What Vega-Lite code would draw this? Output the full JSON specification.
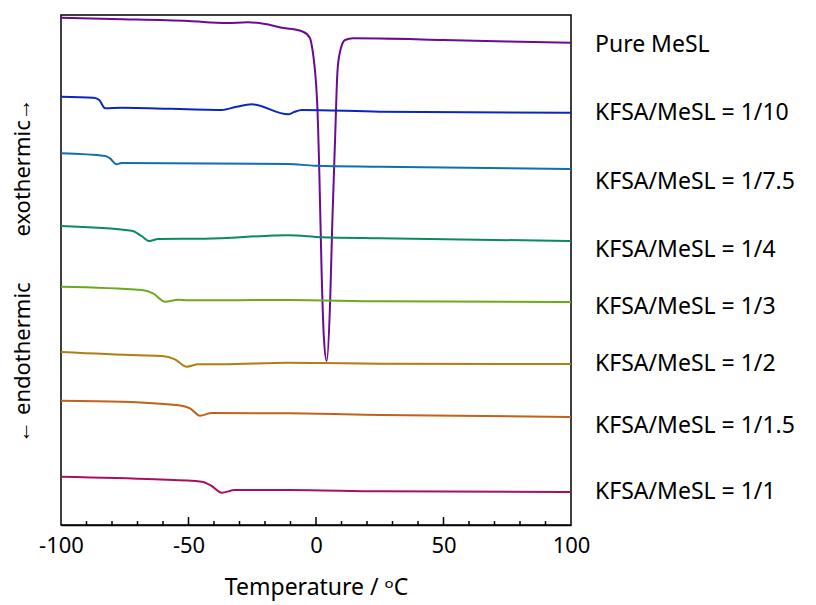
{
  "$schema": "https://vega.github.io/schema/vega-lite/v6.json",
  "width": 510,
  "height": 510,
  "autosize": {"type": "none"},
  "padding": {"left": 61, "top": 15, "right": 245, "bottom": 80},
  "config": {
    "font": "Noto Sans",
    "view": {"stroke": "black", "strokeWidth": 1.5},
    "axis": {"grid": false}
  },
  "datasets": {
    "curves": [
      {"series": "Pure MeSL", "T": -100, "y": 507.3},
      {"series": "Pure MeSL", "T": -80, "y": 506},
      {"series": "Pure MeSL", "T": -50, "y": 504},
      {"series": "Pure MeSL", "T": -35, "y": 502},
      {"series": "Pure MeSL", "T": -26.7, "y": 502.7},
      {"series": "Pure MeSL", "T": -20, "y": 501},
      {"series": "Pure MeSL", "T": -13.3, "y": 497.3},
      {"series": "Pure MeSL", "T": -5.1, "y": 493.3},
      {"series": "Pure MeSL", "T": -2.4, "y": 487},
      {"series": "Pure MeSL", "T": -1.7, "y": 480},
      {"series": "Pure MeSL", "T": 0.5, "y": 420},
      {"series": "Pure MeSL", "T": 1.3, "y": 353},
      {"series": "Pure MeSL", "T": 2.2, "y": 253},
      {"series": "Pure MeSL", "T": 3.1, "y": 187},
      {"series": "Pure MeSL", "T": 4.2, "y": 164},
      {"series": "Pure MeSL", "T": 5.5, "y": 220},
      {"series": "Pure MeSL", "T": 6.4, "y": 303},
      {"series": "Pure MeSL", "T": 7.5, "y": 387},
      {"series": "Pure MeSL", "T": 8.4, "y": 453},
      {"series": "Pure MeSL", "T": 9.4, "y": 473},
      {"series": "Pure MeSL", "T": 11.4, "y": 485},
      {"series": "Pure MeSL", "T": 14.5, "y": 486.7},
      {"series": "Pure MeSL", "T": 25, "y": 486.5},
      {"series": "Pure MeSL", "T": 50, "y": 485},
      {"series": "Pure MeSL", "T": 75, "y": 483.5},
      {"series": "Pure MeSL", "T": 100, "y": 482.3},

      {"series": "KFSA/MeSL = 1/10", "T": -100, "y": 428.3},
      {"series": "KFSA/MeSL = 1/10", "T": -87.3, "y": 427.3},
      {"series": "KFSA/MeSL = 1/10", "T": -85, "y": 425},
      {"series": "KFSA/MeSL = 1/10", "T": -82.7, "y": 416.7},
      {"series": "KFSA/MeSL = 1/10", "T": -76.2, "y": 417.3},
      {"series": "KFSA/MeSL = 1/10", "T": -37, "y": 415},
      {"series": "KFSA/MeSL = 1/10", "T": -31.1, "y": 418.3},
      {"series": "KFSA/MeSL = 1/10", "T": -25.2, "y": 420.7},
      {"series": "KFSA/MeSL = 1/10", "T": -10.9, "y": 410.7},
      {"series": "KFSA/MeSL = 1/10", "T": -8.6, "y": 413},
      {"series": "KFSA/MeSL = 1/10", "T": -5.6, "y": 415},
      {"series": "KFSA/MeSL = 1/10", "T": 25.1, "y": 413.3},
      {"series": "KFSA/MeSL = 1/10", "T": 100, "y": 412.3},

      {"series": "KFSA/MeSL = 1/7.5", "T": -100, "y": 371.7},
      {"series": "KFSA/MeSL = 1/7.5", "T": -82.7, "y": 369},
      {"series": "KFSA/MeSL = 1/7.5", "T": -80.8, "y": 366.7},
      {"series": "KFSA/MeSL = 1/7.5", "T": -78.2, "y": 360.7},
      {"series": "KFSA/MeSL = 1/7.5", "T": -76.2, "y": 362},
      {"series": "KFSA/MeSL = 1/7.5", "T": -10.9, "y": 361},
      {"series": "KFSA/MeSL = 1/7.5", "T": -0.4, "y": 359.3},
      {"series": "KFSA/MeSL = 1/7.5", "T": 25.1, "y": 358.3},
      {"series": "KFSA/MeSL = 1/7.5", "T": 100, "y": 356},

      {"series": "KFSA/MeSL = 1/4", "T": -100, "y": 299},
      {"series": "KFSA/MeSL = 1/4", "T": -72.3, "y": 294.3},
      {"series": "KFSA/MeSL = 1/4", "T": -68.4, "y": 289},
      {"series": "KFSA/MeSL = 1/4", "T": -65.4, "y": 284},
      {"series": "KFSA/MeSL = 1/4", "T": -61.9, "y": 286},
      {"series": "KFSA/MeSL = 1/4", "T": -43.5, "y": 286.3},
      {"series": "KFSA/MeSL = 1/4", "T": -10.9, "y": 289.7},
      {"series": "KFSA/MeSL = 1/4", "T": 2.2, "y": 287.7},
      {"series": "KFSA/MeSL = 1/4", "T": 25.1, "y": 286.7},
      {"series": "KFSA/MeSL = 1/4", "T": 100, "y": 284},

      {"series": "KFSA/MeSL = 1/3", "T": -100, "y": 238.3},
      {"series": "KFSA/MeSL = 1/3", "T": -68.4, "y": 235},
      {"series": "KFSA/MeSL = 1/3", "T": -63.9, "y": 231.7},
      {"series": "KFSA/MeSL = 1/3", "T": -59.2, "y": 223.3},
      {"series": "KFSA/MeSL = 1/3", "T": -54, "y": 225.3},
      {"series": "KFSA/MeSL = 1/3", "T": -50.1, "y": 224.7},
      {"series": "KFSA/MeSL = 1/3", "T": -10.9, "y": 225},
      {"series": "KFSA/MeSL = 1/3", "T": 25.1, "y": 223.7},
      {"series": "KFSA/MeSL = 1/3", "T": 100, "y": 223},

      {"series": "KFSA/MeSL = 1/2", "T": -100, "y": 173},
      {"series": "KFSA/MeSL = 1/2", "T": -69.7, "y": 169.7},
      {"series": "KFSA/MeSL = 1/2", "T": -60.5, "y": 169},
      {"series": "KFSA/MeSL = 1/2", "T": -55.3, "y": 165.7},
      {"series": "KFSA/MeSL = 1/2", "T": -50.7, "y": 158.3},
      {"series": "KFSA/MeSL = 1/2", "T": -46.2, "y": 160.7},
      {"series": "KFSA/MeSL = 1/2", "T": -37, "y": 160.7},
      {"series": "KFSA/MeSL = 1/2", "T": -10.9, "y": 162.3},
      {"series": "KFSA/MeSL = 1/2", "T": 2.2, "y": 162},
      {"series": "KFSA/MeSL = 1/2", "T": 25.1, "y": 161.3},
      {"series": "KFSA/MeSL = 1/2", "T": 100, "y": 161},

      {"series": "KFSA/MeSL = 1/1.5", "T": -100, "y": 124.3},
      {"series": "KFSA/MeSL = 1/1.5", "T": -76.2, "y": 123.3},
      {"series": "KFSA/MeSL = 1/1.5", "T": -52.7, "y": 119.3},
      {"series": "KFSA/MeSL = 1/1.5", "T": -49.4, "y": 116.7},
      {"series": "KFSA/MeSL = 1/1.5", "T": -45.5, "y": 109.3},
      {"series": "KFSA/MeSL = 1/1.5", "T": -40.9, "y": 112},
      {"series": "KFSA/MeSL = 1/1.5", "T": -10.9, "y": 111.7},
      {"series": "KFSA/MeSL = 1/1.5", "T": 25.1, "y": 110},
      {"series": "KFSA/MeSL = 1/1.5", "T": 100, "y": 108},

      {"series": "KFSA/MeSL = 1/1", "T": -100, "y": 48.3},
      {"series": "KFSA/MeSL = 1/1", "T": -63.1, "y": 45.7},
      {"series": "KFSA/MeSL = 1/1", "T": -44.8, "y": 43.3},
      {"series": "KFSA/MeSL = 1/1", "T": -40.9, "y": 39},
      {"series": "KFSA/MeSL = 1/1", "T": -37, "y": 32.3},
      {"series": "KFSA/MeSL = 1/1", "T": -31.8, "y": 35},
      {"series": "KFSA/MeSL = 1/1", "T": -10.9, "y": 35},
      {"series": "KFSA/MeSL = 1/1", "T": 25.1, "y": 33.7},
      {"series": "KFSA/MeSL = 1/1", "T": 100, "y": 33}
    ],
    "labels": [
      {"series": "Pure MeSL", "y": 480},
      {"series": "KFSA/MeSL = 1/10", "y": 412},
      {"series": "KFSA/MeSL = 1/7.5", "y": 343},
      {"series": "KFSA/MeSL = 1/4", "y": 275},
      {"series": "KFSA/MeSL = 1/3", "y": 218},
      {"series": "KFSA/MeSL = 1/2", "y": 161},
      {"series": "KFSA/MeSL = 1/1.5", "y": 99},
      {"series": "KFSA/MeSL = 1/1", "y": 33}
    ],
    "majorTicks": [
      {"T": -50}, {"T": 0}, {"T": 50}
    ],
    "minorTicks": [
      {"T": -90}, {"T": -80}, {"T": -70}, {"T": -60}, {"T": -40}, {"T": -30}, {"T": -20}, {"T": -10},
      {"T": 10}, {"T": 20}, {"T": 30}, {"T": 40}, {"T": 60}, {"T": 70}, {"T": 80}, {"T": 90}
    ]
  },
  "layer": [
    {
      "data": {"name": "curves"},
      "mark": {"type": "line", "interpolate": "monotone", "strokeWidth": 2, "clip": true},
      "encoding": {
        "x": {
          "field": "T", "type": "quantitative",
          "scale": {"domain": [-100, 100], "nice": false},
          "axis": {
            "orient": "bottom",
            "values": [-100, -50, 0, 50, 100],
            "labelExpr": "'' + datum.value",
            "labelFlush": false,
            "labelOverlap": false,
            "title": "Temperature / ᵒC",
            "titleFont": "Noto Sans", "titleFontSize": 23, "titleFontWeight": "normal", "titleColor": "black",
            "titlePadding": 20,
            "labelFontSize": 22, "labelColor": "black",
            "labelPadding": 10,
            "ticks": false,
            "domain": true, "domainColor": "black", "domainWidth": 1.5,
            "zindex": 1
          }
        },
        "y": {
          "field": "y", "type": "quantitative",
          "scale": {"domain": [0, 510], "nice": false, "zero": false},
          "axis": {
            "title": "← endothermic\u00a0\u00a0\u00a0\u00a0\u00a0\u00a0\u00a0\u00a0exothermic→",
            "titleFontSize": 22, "titleFontWeight": "normal", "titleColor": "black",
            "titlePadding": 27,
            "labels": false, "ticks": false, "domain": false
          }
        },
        "color": {
          "field": "series", "type": "nominal", "legend": null,
          "scale": {
            "domain": ["Pure MeSL", "KFSA/MeSL = 1/10", "KFSA/MeSL = 1/7.5", "KFSA/MeSL = 1/4", "KFSA/MeSL = 1/3", "KFSA/MeSL = 1/2", "KFSA/MeSL = 1/1.5", "KFSA/MeSL = 1/1"],
            "range": ["#6b0a96", "#0b25c2", "#0f6fb0", "#0a8a5f", "#6aab1c", "#b0800f", "#c0621a", "#a8105f"]
          }
        }
      }
    },
    {
      "data": {"name": "majorTicks"},
      "mark": {"type": "tick", "orient": "vertical", "size": 16, "thickness": 1.5, "color": "black", "opacity": 1, "clip": true},
      "encoding": {
        "x": {"field": "T", "type": "quantitative"},
        "y": {"datum": 0, "type": "quantitative"}
      }
    },
    {
      "data": {"name": "minorTicks"},
      "mark": {"type": "tick", "orient": "vertical", "size": 8, "thickness": 1.5, "color": "black", "opacity": 1, "clip": true},
      "encoding": {
        "x": {"field": "T", "type": "quantitative"},
        "y": {"datum": 0, "type": "quantitative"}
      }
    },
    {
      "data": {"name": "labels"},
      "mark": {"type": "text", "align": "left", "baseline": "middle", "dx": 24, "fontSize": 23, "color": "black", "clip": false},
      "encoding": {
        "x": {"datum": 100, "type": "quantitative"},
        "y": {"field": "y", "type": "quantitative"},
        "text": {"field": "series"}
      }
    }
  ]
}
